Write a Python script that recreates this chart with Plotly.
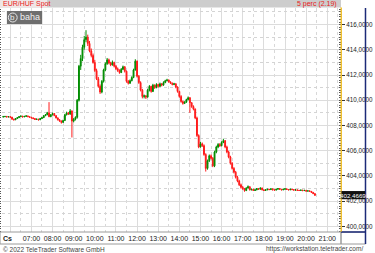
import plotly.graph_objects as go
import pandas as pd

# ---- data (5-minute candles, EUR/HUF spot) ----
start_time = "2022-03-10 05:40"
O = [408.68,408.70,408.72,408.68,408.70,408.66,408.50,408.45,408.55,408.62,
     408.70,408.74,408.68,408.72,408.76,408.70,408.65,408.60,408.55,408.48,
     408.50,408.45,408.55,408.62,408.78,408.85,409.00,408.70,408.85,408.95,
     408.78,408.60,408.45,408.35,408.25,408.40,408.85,409.00,408.90,409.15,
     408.35,408.50,408.65,410.00,412.70,413.30,414.20,414.80,415.00,414.50,
     413.90,413.55,413.00,412.35,411.70,411.10,410.65,411.50,412.40,412.90,
     413.20,412.95,412.80,413.00,412.70,412.50,412.35,412.20,412.45,412.65,
     412.30,411.50,411.35,411.55,411.80,412.40,413.10,411.90,411.40,410.80,
     410.30,410.35,410.25,410.80,411.10,410.70,411.20,411.00,411.25,411.10,
     411.30,411.20,411.40,411.55,411.60,411.45,411.35,411.25,411.30,411.05,
     410.70,410.30,409.90,409.75,409.85,410.05,410.20,409.80,409.50,409.30,
     408.60,407.20,406.30,406.55,406.40,405.70,404.60,405.20,405.60,405.40,
     404.80,405.90,406.30,406.50,406.40,406.65,406.80,406.30,405.90,405.50,
     405.00,404.60,404.30,403.90,403.60,403.30,403.10,403.00,402.85,403.05,
     403.15,402.90,402.95,402.85,402.90,403.00,402.95,403.05,402.90,402.85,
     402.90,402.95,402.92,402.98,402.90,402.88,402.95,403.00,402.95,402.90,
     402.95,402.98,402.93,402.90,402.95,402.92,402.88,402.90,402.86,402.85,
     402.88,402.84,402.86,402.80,402.82,402.78,402.70,402.60]
H = [408.76,408.75,408.74,408.73,408.72,408.68,408.54,408.58,408.66,408.74,
     408.80,408.76,408.76,408.82,408.78,408.72,408.68,408.64,408.58,408.55,
     408.53,408.60,408.66,408.82,408.90,409.08,409.85,408.90,409.02,408.98,
     408.82,408.64,408.50,408.40,408.46,408.92,409.10,409.06,409.30,409.20,
     408.58,408.72,410.10,412.80,413.60,414.40,415.10,415.55,415.20,414.70,
     414.10,413.70,413.20,412.50,411.85,411.25,411.60,412.50,413.00,413.35,
     413.30,413.05,413.15,413.05,412.80,412.60,412.45,412.55,412.75,412.70,
     412.35,411.60,411.65,411.90,412.50,413.25,413.15,412.00,411.50,410.90,
     410.45,410.40,410.90,411.20,411.15,411.30,411.25,411.35,411.30,411.40,
     411.35,411.50,411.62,411.70,411.65,411.50,411.40,411.38,411.35,411.10,
     410.75,410.40,409.98,409.92,410.12,410.30,410.25,409.85,409.60,409.35,
     408.70,407.30,406.70,406.65,406.50,405.80,405.30,405.70,405.70,405.50,
     406.00,406.40,406.60,406.60,406.75,406.95,406.85,406.40,406.00,405.60,
     405.10,404.70,404.40,404.00,403.70,403.40,403.20,403.05,403.10,403.25,
     403.18,402.99,402.98,402.94,403.04,403.03,403.09,403.07,402.93,402.94,
     402.99,402.97,403.02,403.00,402.93,402.99,403.04,403.02,402.97,402.99,
     403.02,403.00,402.95,402.99,402.97,402.94,402.94,402.92,402.89,402.92,
     402.90,402.90,402.88,402.86,402.84,402.80,402.73,402.64]
L = [408.64,408.66,408.64,408.65,408.62,408.46,408.40,408.43,408.52,408.60,
     408.68,408.64,408.66,408.70,408.66,408.62,408.56,408.50,408.44,408.44,
     408.40,408.43,408.52,408.60,408.74,408.82,408.66,408.66,408.80,408.74,
     408.56,408.40,408.30,408.15,408.20,408.36,408.80,408.84,408.86,407.05,
     408.25,408.40,408.55,409.90,412.40,413.10,414.00,414.60,414.30,413.80,
     413.40,412.90,412.25,411.60,411.00,410.50,410.55,411.40,412.30,412.80,
     412.85,412.70,412.75,412.60,412.40,412.25,412.10,412.15,412.40,412.20,
     411.40,411.25,411.30,411.50,411.75,412.35,411.80,411.30,410.70,410.15,
     410.15,410.10,410.20,410.70,410.60,410.65,410.90,410.95,411.00,411.05,
     411.10,411.15,411.35,411.50,411.40,411.30,411.18,411.20,410.95,410.60,
     410.20,409.80,409.65,409.70,409.80,410.00,409.00,409.40,409.20,408.50,
     407.10,406.20,406.25,406.30,405.60,404.35,404.50,405.10,405.30,404.70,
     404.70,405.80,406.20,406.30,406.35,406.60,406.20,405.80,405.40,404.90,
     404.50,404.20,403.80,403.50,403.20,403.00,402.90,402.75,402.80,403.00,
     402.85,402.86,402.81,402.81,402.87,402.91,402.92,402.86,402.81,402.82,
     402.87,402.88,402.89,402.86,402.84,402.85,402.92,402.91,402.86,402.87,
     402.92,402.89,402.86,402.87,402.88,402.84,402.85,402.82,402.81,402.82,
     402.80,402.81,402.76,402.77,402.74,402.66,402.56,402.42]
C = [408.70,408.72,408.68,408.70,408.66,408.50,408.45,408.55,408.62,408.70,
     408.74,408.68,408.72,408.76,408.70,408.65,408.60,408.55,408.48,408.50,
     408.45,408.55,408.62,408.78,408.85,409.00,408.70,408.85,408.95,408.78,
     408.60,408.45,408.35,408.25,408.40,408.85,409.00,408.90,409.15,408.35,
     408.50,408.65,410.00,412.70,413.30,414.20,414.80,415.00,414.50,413.90,
     413.55,413.00,412.35,411.70,411.10,410.65,411.50,412.40,412.90,413.20,
     412.95,412.80,413.00,412.70,412.50,412.35,412.20,412.45,412.65,412.30,
     411.50,411.35,411.55,411.80,412.40,413.10,411.90,411.40,410.80,410.30,
     410.35,410.25,410.80,411.10,410.70,411.20,411.00,411.25,411.10,411.30,
     411.20,411.40,411.55,411.60,411.45,411.35,411.25,411.30,411.05,410.70,
     410.30,409.90,409.75,409.85,410.05,410.20,409.80,409.50,409.30,408.60,
     407.20,406.30,406.55,406.40,405.70,404.60,405.20,405.60,405.40,404.80,
     405.90,406.30,406.50,406.40,406.65,406.80,406.30,405.90,405.50,405.00,
     404.60,404.30,403.90,403.60,403.30,403.10,403.00,402.85,403.05,403.15,
     402.90,402.95,402.85,402.90,403.00,402.95,403.05,402.90,402.85,402.90,
     402.95,402.92,402.98,402.90,402.88,402.95,403.00,402.95,402.90,402.95,
     402.98,402.93,402.90,402.95,402.92,402.88,402.90,402.86,402.85,402.88,
     402.84,402.86,402.80,402.82,402.78,402.70,402.60,402.47]
last_price = 402.4669
price_ticks = [400, 402, 404, 406, 408, 410, 412, 414, 416]
odd_grid = [401, 403, 405, 407, 409, 411, 413, 415, 417]
hour_ticks = ["06:00","07:00","08:00","09:00","10:00","11:00","12:00","13:00",
              "14:00","15:00","16:00","17:00","18:00","19:00","20:00","21:00"]
day = "2022-03-10"

times = pd.date_range(start_time, periods=len(C), freq="5min")

# ---- layout geometry (pixels) ----
W, Hh = 375, 253
ML, MR, MT, MB = 2, 27, 8, 21
PW, PH = W - ML - MR, Hh - MT - MB
def px(x): return (x - ML) / PW
def py(y): return (Hh - MB - y) / PH

FONT = "Liberation Sans"
RED = "#ff1a1a"
GREEN = "#008c00"

fig = go.Figure()
fig.add_trace(go.Candlestick(
    x=times, open=O, high=H, low=L, close=C,
    increasing=dict(line=dict(color=GREEN, width=1), fillcolor=GREEN),
    decreasing=dict(line=dict(color=RED, width=1), fillcolor=RED),
    whiskerwidth=0, showlegend=False, hoverinfo="skip",
))

tickvals_x = [f"{day} {h}" for h in hour_ticks]
ticktext_x = [""] + hour_ticks[1:]

fig.update_layout(
    width=W, height=Hh,
    margin=dict(l=ML, r=MR, t=MT, b=MB, pad=0),
    paper_bgcolor="white", plot_bgcolor="white",
    font=dict(family=FONT, size=7, color="#222222"),
    xaxis=dict(
        range=[f"{day} 05:36:30", f"{day} 21:39:00"],
        rangeslider=dict(visible=False),
        tickmode="array", tickvals=tickvals_x, ticktext=ticktext_x,
        ticks="", ticklen=0, showgrid=True, gridcolor="#dcdcdc", gridwidth=1,
        minor=dict(tick0=f"{day} 06:30", dtick=3600000, showgrid=True,
                   gridcolor="#d8d8d8", griddash="dot", ticks=""),
        tickfont=dict(size=7, color="#222222", family=FONT),
        ticklabelstandoff=1,
        showline=False, zeroline=False, fixedrange=True,
    ),
    yaxis=dict(
        side="right", range=[399.56, 417.31],
        tickmode="array", tickvals=price_ticks,
        ticktext=[f"{v:.4f}".replace(".", ",") for v in price_ticks],
        ticks="outside", ticklen=3, tickcolor="#333333",
        showgrid=True, gridcolor="#dcdcdc", gridwidth=1,
        showline=True, linecolor="#f0c030", linewidth=1,
        minor=dict(dtick=0.2, ticks="inside", ticklen=2, tickcolor="#555555",
                   showgrid=False),
        tickfont=dict(size=6.3, color="#222222", family=FONT),
        zeroline=False,
    ),
    yaxis2=dict(
        overlaying="y", side="left", range=[399.56, 417.31],
        tickmode="array", tickvals=odd_grid, showticklabels=False,
        ticks="", showgrid=True, gridcolor="#d4d4d4", griddash="dot",
        minor=dict(dtick=0.2, ticks="outside", ticklen=2, tickcolor="#555555",
                   showgrid=False),
        showline=False, zeroline=False,
    ),
)
fig.add_trace(go.Scatter(x=[times[0]], y=[C[0]], yaxis="y2", mode="markers",
                         marker=dict(opacity=0), showlegend=False, hoverinfo="skip"))

shapes = []
# header band
shapes.append(dict(type="rect", xref="paper", yref="paper", x0=px(0), x1=px(348),
                   y0=py(0), y1=py(7.5), fillcolor="#cdcdcd", line=dict(width=0), layer="above"))
shapes.append(dict(type="rect", xref="paper", yref="paper", x0=px(0), x1=px(48),
                   y0=py(0), y1=py(7.5), fillcolor="#efe6e6", line=dict(width=0), layer="above"))
# baha logo
shapes.append(dict(type="rect", xref="paper", yref="paper", x0=px(7), x1=px(43),
                   y0=py(11), y1=py(24), fillcolor="#6e6e6e", line=dict(width=0), layer="above"))
shapes.append(dict(type="circle", xref="paper", yref="paper", x0=px(8.5), x1=px(17.5),
                   y0=py(13), y1=py(22), fillcolor="rgba(0,0,0,0)",
                   line=dict(color="#e8e8e8", width=1), layer="above"))
# x axis row frame (transparent fill so labels stay visible)
shapes.append(dict(type="rect", xref="paper", yref="paper", x0=px(0), x1=px(348),
                   y0=py(232), y1=py(244), fillcolor="rgba(0,0,0,0)",
                   line=dict(color="#9a9a9a", width=1), layer="above"))
shapes.append(dict(type="rect", xref="paper", yref="paper", x0=px(348), x1=px(373),
                   y0=py(232), y1=py(244), fillcolor="rgba(0,0,0,0)",
                   line=dict(color="#9a9a9a", width=1), layer="above"))
# navy frame on the right
shapes.append(dict(type="line", xref="paper", yref="paper", x0=px(373), x1=px(373),
                   y0=py(8), y1=py(244), line=dict(color="#1c2a78", width=1.5), layer="above"))
shapes.append(dict(type="line", xref="paper", yref="paper", x0=px(348), x1=px(373),
                   y0=py(232), y1=py(232), line=dict(color="#1c2a78", width=1.5), layer="above"))
# yellow price axis extended into header
shapes.append(dict(type="line", xref="paper", yref="paper", x0=px(348), x1=px(348),
                   y0=py(7), y1=py(232), line=dict(color="#f0c030", width=1), layer="above"))
# last price box
shapes.append(dict(type="rect", xref="paper", yref="y", x0=px(348.5), x1=px(372.5),
                   y0=last_price - 0.31, y1=last_price + 0.34, fillcolor="#111111",
                   line=dict(width=0), layer="above"))
fig.update_layout(shapes=shapes)

ann = []
ann.append(dict(text="EUR/HUF Spot", xref="paper", yref="paper", x=px(1), y=py(3.8),
                xanchor="left", yanchor="middle", showarrow=False,
                font=dict(size=7, color="#e82020", family=FONT)))
ann.append(dict(text="5 perc (2.19)", xref="paper", yref="paper", x=px(346), y=py(3.8),
                xanchor="right", yanchor="middle", showarrow=False,
                font=dict(size=7, color="#e82020", family=FONT)))
ann.append(dict(text="b", xref="paper", yref="paper", x=px(13), y=py(17.3),
                xanchor="center", yanchor="middle", showarrow=False,
                font=dict(size=8, color="#f0f0f0", family=FONT)))
ann.append(dict(text="baha", xref="paper", yref="paper", x=px(18), y=py(17.3),
                xanchor="left", yanchor="middle", showarrow=False,
                font=dict(size=9, color="#f0f0f0", family=FONT)))
ann.append(dict(text="<b>Cs</b>", xref="paper", yref="paper", x=px(1), y=py(238.5),
                xanchor="left", yanchor="middle", showarrow=False,
                font=dict(size=7, color="#222222", family=FONT)))
ann.append(dict(text=f"{last_price:.4f}".replace(".", ","), xref="paper", yref="y",
                x=px(360.5), y=last_price + 0.02, xanchor="center", yanchor="middle",
                showarrow=False, font=dict(size=6.2, color="white", family=FONT)))
ann.append(dict(text="© 2022 TeleTrader Software GmbH", xref="paper", yref="paper",
                x=px(1), y=py(249), xanchor="left", yanchor="middle", showarrow=False,
                font=dict(size=6.5, color="#444444", family=FONT)))
ann.append(dict(text="https://workstation.teletrader.com/", xref="paper", yref="paper",
                x=px(373), y=py(249), xanchor="right", yanchor="middle", showarrow=False,
                font=dict(size=6.5, color="#444444", family=FONT)))
fig.update_layout(annotations=ann)

fig.write_html("out.html")
